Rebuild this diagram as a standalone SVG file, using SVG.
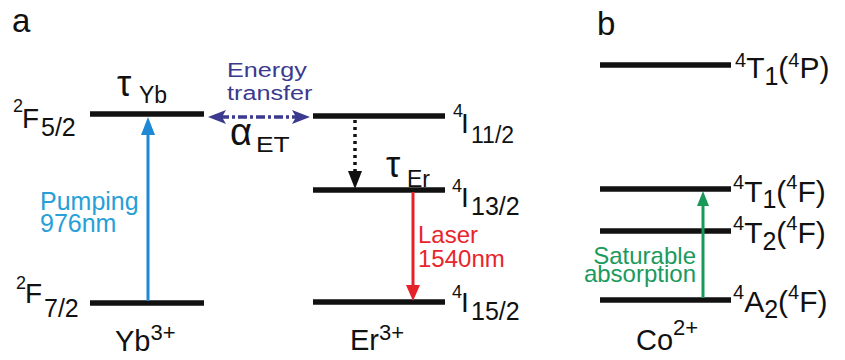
<svg xmlns="http://www.w3.org/2000/svg" width="845" height="360" viewBox="0 0 845 360">
<style>
text{font-family:"Liberation Sans",Arial,Helvetica,sans-serif;fill:#111}
.lvl{stroke:#111;stroke-width:5.5;fill:none}
.m{font-size:28px}
.mb{font-size:30px}
.sup{font-size:18px}
.supb{font-size:20px}
.sub{font-size:23px}
.subb{font-size:25px}
.big{font-size:33px}
.tau{font-size:36px}
.blue{fill:#27a0d8}
.red{fill:#e8252c}
.green{fill:#1a9a5c}
.navy{fill:#3b3a8e}
</style>
<rect width="845" height="360" fill="#fff"/>
<text class="big" x="12" y="32">a</text>
<text class="big" x="597" y="35">b</text>

<g id="yb">
<line class="lvl" x1="90" y1="114" x2="204" y2="114"/>
<line class="lvl" x1="90" y1="303" x2="204" y2="303"/>
<text x="13" y="112"><tspan class="sup">2</tspan><tspan class="m" x="22" y="128">F</tspan><tspan class="sub" x="41" y="136" style="font-size:25px">5/2</tspan></text>
<text x="16" y="289"><tspan class="sup">2</tspan><tspan class="m" x="25" y="303">F</tspan><tspan class="sub" x="44" y="317" style="font-size:25px">7/2</tspan></text>
<text x="117" y="96"><tspan class="tau">τ</tspan><tspan class="sub" x="139" y="103">Yb</tspan></text>
<text x="115" y="351"><tspan style="font-size:29px">Yb</tspan><tspan style="font-size:22px" dy="-11">3+</tspan></text>
</g>

<g id="er">
<line class="lvl" x1="313" y1="116" x2="445" y2="116"/>
<line class="lvl" x1="313" y1="190" x2="445" y2="190"/>
<line class="lvl" x1="313" y1="302" x2="445" y2="302"/>
<text x="453" y="117"><tspan class="sup">4</tspan><tspan class="m" x="461" y="133">I</tspan><tspan class="sub" x="471" y="143">11/2</tspan></text>
<text x="452" y="192"><tspan class="sup">4</tspan><tspan class="m" x="461" y="207">I</tspan><tspan class="sub" x="471" y="215" style="font-size:25px">13/2</tspan></text>
<text x="452" y="298"><tspan class="sup">4</tspan><tspan class="m" x="461" y="312">I</tspan><tspan class="sub" x="471" y="320" style="font-size:25px">15/2</tspan></text>
<text x="386" y="177"><tspan class="tau">τ</tspan><tspan class="sub" x="407" y="187">Er</tspan></text>
<text x="350" y="350"><tspan style="font-size:29px">Er</tspan><tspan style="font-size:22px" dy="-10">3+</tspan></text>
</g>

<g id="co">
<line class="lvl" x1="600" y1="65" x2="731" y2="65"/>
<line class="lvl" x1="600" y1="189" x2="731" y2="189"/>
<line class="lvl" x1="600" y1="231" x2="731" y2="231"/>
<line class="lvl" x1="600" y1="300" x2="731" y2="300"/>
<text x="735" y="67"><tspan class="supb">4</tspan><tspan class="mb" dy="11">T</tspan><tspan class="subb" dy="7">1</tspan><tspan class="mb" dy="-7">(</tspan><tspan class="supb" dy="-11">4</tspan><tspan class="mb" dy="11">P)</tspan></text>
<text x="733" y="189"><tspan class="supb">4</tspan><tspan class="mb" dy="13">T</tspan><tspan class="subb" dy="6">1</tspan><tspan class="mb" dy="-6">(</tspan><tspan class="supb" dy="-13">4</tspan><tspan class="mb" dy="13">F)</tspan></text>
<text x="733" y="230"><tspan class="supb">4</tspan><tspan class="mb" dy="13">T</tspan><tspan class="subb" dy="7">2</tspan><tspan class="mb" dy="-7">(</tspan><tspan class="supb" dy="-13">4</tspan><tspan class="mb" dy="13">F)</tspan></text>
<text x="733" y="299"><tspan class="supb">4</tspan><tspan class="mb" dy="13">A</tspan><tspan class="subb" dy="6">2</tspan><tspan class="mb" dy="-6">(</tspan><tspan class="supb" dy="-13">4</tspan><tspan class="mb" dy="13">F)</tspan></text>
<text x="636" y="350"><tspan style="font-size:29px">Co</tspan><tspan style="font-size:22px" dy="-15">2+</tspan></text>
</g>

<g id="connectors">
<g id="pump">
<line x1="148" y1="301" x2="148" y2="132" stroke="#1f88d5" stroke-width="3"/>
<polygon points="148,117 141,135 155,135" fill="#1f88d5"/>
<text class="blue" style="font-size:25px" x="40" y="210">Pumping</text>
<text class="blue" style="font-size:25px" x="40" y="232">976nm</text>
</g>
<g id="et">
<line x1="220" y1="117" x2="298" y2="117" stroke="#3b3a8e" stroke-width="3.5" stroke-dasharray="9 3 3 3"/>
<path d="M208,117 L226,110 L222,117 L226,124 Z" fill="#3b3a8e"/>
<path d="M310,117 L292,110 L296,117 L292,124 Z" fill="#3b3a8e"/>
<text class="navy" transform="translate(227 77) scale(1.2 1)" style="font-size:21px">Energy</text>
<text class="navy" transform="translate(227 100) scale(1.2 1)" style="font-size:21px">transfer</text>
<text x="230" y="145"><tspan style="font-size:38px">α</tspan></text>
<text transform="translate(256 152) scale(1.2 1)" style="font-size:22px">ET</text>
</g>
<g id="relax">
<line x1="355" y1="120" x2="355" y2="172" stroke="#111" stroke-width="3.5" stroke-dasharray="3 4"/>
<polygon points="355,189 348,171 362,171" fill="#111"/>
</g>
<g id="laser">
<line x1="413" y1="192" x2="413" y2="288" stroke="#e5222a" stroke-width="3"/>
<polygon points="413,301 406,285 420,285" fill="#e5222a"/>
<text class="red" style="font-size:24px" x="418" y="243">Laser</text>
<text class="red" style="font-size:24px" x="418" y="267">1540nm</text>
</g>
<g id="sa">
<line x1="703" y1="298" x2="703" y2="203" stroke="#18995a" stroke-width="3"/>
<polygon points="703,191 697,206 709,206" fill="#18995a"/>
<text class="green" style="font-size:24px" text-anchor="end" x="696" y="264">Saturable</text>
<text class="green" style="font-size:24px" text-anchor="end" x="696" y="282">absorption</text>
</g>
</g>
</svg>
